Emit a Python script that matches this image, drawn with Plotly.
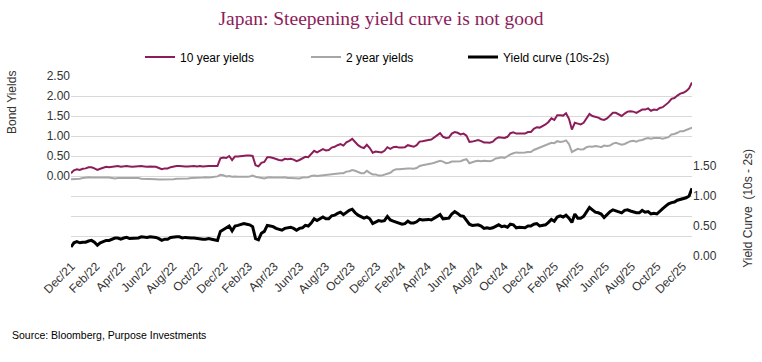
import pandas as pd
import plotly.graph_objects as go

# ---------------- data (weekly readings, Thursdays from 30 Dec 2021) ----------------
start_date = "2021-12-30"

ten_year = [
    0.07,
    0.14, 0.17, 0.15, 0.18,
    0.19, 0.22, 0.22, 0.19,
    0.15, 0.18, 0.20, 0.23, 0.22,
    0.23, 0.24, 0.25, 0.23,
    0.24, 0.25, 0.24, 0.23,
    0.24, 0.25, 0.25, 0.24, 0.23,
    0.24, 0.24, 0.23, 0.20,
    0.17, 0.19, 0.19, 0.22,
    0.24, 0.25, 0.25, 0.24, 0.24,
    0.24, 0.25, 0.25, 0.24,
    0.25, 0.24, 0.25, 0.25,
    0.25, 0.25, 0.25, 0.44, 0.46,
    0.45, 0.50, 0.40, 0.49,
    0.49, 0.50, 0.51, 0.51,
    0.51, 0.50, 0.27, 0.24, 0.33,
    0.35, 0.47, 0.47, 0.45,
    0.42, 0.40, 0.39, 0.43,
    0.42, 0.43, 0.41, 0.37, 0.40,
    0.43, 0.48, 0.47, 0.55,
    0.63, 0.59, 0.63, 0.67, 0.64,
    0.65, 0.71, 0.73, 0.77,
    0.80, 0.76, 0.84, 0.88,
    0.93, 0.85, 0.77, 0.72, 0.70,
    0.78, 0.70, 0.58, 0.61,
    0.60, 0.59, 0.63, 0.72,
    0.68, 0.72, 0.73, 0.71, 0.71,
    0.72, 0.77, 0.74, 0.73,
    0.77, 0.86, 0.87, 0.89,
    0.90, 0.91, 0.96, 1.02, 1.07,
    0.98, 0.95, 0.96, 1.06,
    1.10, 1.08, 1.04, 1.06,
    1.01, 0.85, 0.86, 0.88, 0.90,
    0.87, 0.84, 0.84, 0.83,
    0.86, 0.93, 0.97, 0.96, 0.95,
    0.98, 1.07, 1.09, 1.06,
    1.06, 1.06, 1.06, 1.10,
    1.10, 1.18, 1.22, 1.21, 1.24,
    1.29, 1.35, 1.44, 1.40,
    1.52, 1.52, 1.51, 1.57,
    1.43, 1.16, 1.33, 1.31,
    1.29, 1.33, 1.45, 1.55, 1.50,
    1.48, 1.46, 1.42, 1.40,
    1.44, 1.50, 1.58, 1.58, 1.55,
    1.50, 1.56, 1.61, 1.62,
    1.61, 1.58, 1.61, 1.66,
    1.66, 1.69, 1.63, 1.66, 1.65,
    1.70, 1.72, 1.78, 1.84,
    1.93, 1.95, 2.01, 2.06,
    2.08, 2.12, 2.19, 2.34,
]

two_year = [
    -0.08,
    -0.08, -0.07, -0.07, -0.05,
    -0.04, -0.03, -0.04, -0.04,
    -0.03, -0.04, -0.04, -0.03, -0.04,
    -0.05, -0.06, -0.05, -0.05,
    -0.06, -0.06, -0.05, -0.06,
    -0.06, -0.05, -0.07, -0.07, -0.08,
    -0.08, -0.08, -0.08, -0.09,
    -0.09, -0.09, -0.09, -0.09,
    -0.08, -0.07, -0.07, -0.06, -0.07,
    -0.06, -0.05, -0.05, -0.05,
    -0.04, -0.04, -0.03, -0.04,
    -0.03, -0.02, -0.01, 0.03, 0.02,
    -0.01, 0.00, -0.02, -0.01,
    -0.02, -0.02, -0.03, -0.02,
    -0.01, 0.01, -0.02, -0.03, -0.05,
    -0.06, -0.04, -0.03, -0.04,
    -0.04, -0.05, -0.04, -0.03,
    -0.05, -0.05, -0.05, -0.06, -0.06,
    -0.04, -0.03, -0.03, 0.00,
    0.01, 0.00, 0.01, 0.02, 0.02,
    0.03, 0.04, 0.05, 0.06,
    0.07, 0.07, 0.11, 0.12,
    0.15, 0.13, 0.09, 0.07, 0.07,
    0.13, 0.08, 0.04, 0.04,
    0.01, 0.01, 0.04, 0.06,
    0.08, 0.14, 0.17, 0.17, 0.18,
    0.18, 0.19, 0.19, 0.18,
    0.20, 0.25, 0.27, 0.28,
    0.29, 0.31, 0.33, 0.35, 0.38,
    0.36, 0.32, 0.33, 0.36,
    0.36, 0.37, 0.37, 0.40,
    0.42, 0.32, 0.35, 0.37, 0.38,
    0.37, 0.38, 0.37, 0.37,
    0.39, 0.44, 0.45, 0.47, 0.45,
    0.50, 0.54, 0.57, 0.59,
    0.58, 0.58, 0.59, 0.60,
    0.60, 0.65, 0.68, 0.71, 0.73,
    0.77, 0.79, 0.83, 0.82,
    0.87, 0.85, 0.86, 0.89,
    0.80, 0.60, 0.63, 0.68,
    0.66, 0.67, 0.72, 0.74, 0.73,
    0.75, 0.74, 0.72, 0.76,
    0.75, 0.76, 0.81, 0.83, 0.81,
    0.78, 0.80, 0.84, 0.87,
    0.88, 0.86, 0.89, 0.90,
    0.93, 0.95, 0.93, 0.95, 0.95,
    0.95, 0.93, 0.95, 0.97,
    1.04, 1.05, 1.08, 1.12,
    1.12, 1.15, 1.19, 1.21,
]

yield_curve = [
    0.15,
    0.22, 0.24, 0.22, 0.23,
    0.23, 0.25, 0.26, 0.23,
    0.18, 0.22, 0.24, 0.26, 0.26,
    0.28, 0.30, 0.30, 0.28,
    0.30, 0.31, 0.29, 0.29,
    0.30, 0.30, 0.32, 0.31, 0.31,
    0.32, 0.32, 0.31, 0.29,
    0.26, 0.28, 0.28, 0.31,
    0.32, 0.32, 0.32, 0.30, 0.31,
    0.30, 0.30, 0.30, 0.29,
    0.29, 0.28, 0.28, 0.29,
    0.28, 0.27, 0.26, 0.41, 0.44,
    0.46, 0.50, 0.42, 0.50,
    0.51, 0.52, 0.54, 0.53,
    0.52, 0.49, 0.29, 0.27, 0.38,
    0.41, 0.51, 0.50, 0.49,
    0.46, 0.45, 0.43, 0.46,
    0.47, 0.48, 0.46, 0.43, 0.46,
    0.47, 0.51, 0.50, 0.55,
    0.62, 0.59, 0.62, 0.65, 0.62,
    0.62, 0.67, 0.68, 0.71,
    0.73, 0.69, 0.73, 0.76,
    0.78, 0.72, 0.68, 0.65, 0.63,
    0.65, 0.62, 0.54, 0.57,
    0.59, 0.58, 0.59, 0.66,
    0.60, 0.58, 0.56, 0.54, 0.53,
    0.54, 0.58, 0.55, 0.55,
    0.57, 0.61, 0.60, 0.61,
    0.61, 0.60, 0.63, 0.67, 0.69,
    0.62, 0.63, 0.63, 0.70,
    0.74, 0.71, 0.67, 0.66,
    0.59, 0.53, 0.51, 0.51, 0.52,
    0.50, 0.46, 0.47, 0.46,
    0.47, 0.49, 0.52, 0.49, 0.50,
    0.48, 0.53, 0.52, 0.47,
    0.48, 0.48, 0.47, 0.50,
    0.50, 0.53, 0.54, 0.50, 0.51,
    0.52, 0.56, 0.61, 0.58,
    0.65, 0.67, 0.65, 0.68,
    0.63, 0.56, 0.70, 0.63,
    0.63, 0.66, 0.73, 0.81, 0.77,
    0.73, 0.72, 0.70, 0.64,
    0.69, 0.74, 0.77, 0.75, 0.74,
    0.72, 0.76, 0.77, 0.75,
    0.73, 0.72, 0.72, 0.76,
    0.73, 0.74, 0.70, 0.71, 0.70,
    0.75, 0.79, 0.83, 0.87,
    0.89, 0.90, 0.93, 0.94,
    0.96, 0.97, 1.00, 1.13,
]

dates = pd.date_range(start_date, periods=len(ten_year), freq="7D")

left_tick_vals = [-2.0, -1.5, -1.0, -0.5, 0.0, 0.5, 1.0, 1.5, 2.0, 2.5]
left_tick_text = ["", "", "", "", "0.00", "0.50", "1.00", "1.50", "2.00", "2.50"]
right_tick_vals = [0.0, 0.5, 1.0, 1.5]
right_tick_text = ["0.00", "0.50", "1.00", "1.50"]
x_tick_dates = pd.date_range("2021-12-31", "2025-12-31", freq="2ME")

title_text = "Japan: Steepening yield curve is not good"
names = ["10 year yields", "2 year yields", "Yield curve (10s-2s)"]
left_title = "Bond Yields"
right_title = "Yield Curve  (10s - 2s)"
source_text = "Source: Bloomberg, Purpose Investments"

# ---------------- styles ----------------
C_TEN = "#8C1D5A"
C_TWO = "#A6A6A6"
C_CURVE = "#000000"
GRID = "#D9D9D9"
FONT = "Liberation Sans, Arial, sans-serif"
TXT = "#333333"

fig = go.Figure()
fig.add_trace(go.Scatter(x=dates, y=ten_year, name=names[0], mode="lines",
                         line=dict(color=C_TEN, width=2), yaxis="y", legend="legend"))
fig.add_trace(go.Scatter(x=dates, y=two_year, name=names[1], mode="lines",
                         line=dict(color=C_TWO, width=2), yaxis="y", legend="legend2"))
fig.add_trace(go.Scatter(x=dates, y=yield_curve, name=names[2], mode="lines",
                         line=dict(color=C_CURVE, width=3), yaxis="y2", legend="legend3"))


def legend_at(px_left):
    return dict(orientation="h", x=(px_left - 71) / 621.0, xanchor="left",
                y=1.105, yanchor="middle",
                font=dict(family=FONT, size=12, color="#000000"),
                bgcolor="rgba(0,0,0,0)", itemwidth=30)


xr = [dates[0], dates[-1]]
fig.update_layout(
    width=762, height=362,
    margin=dict(l=71, r=70, t=76, b=106),
    paper_bgcolor="white", plot_bgcolor="white",
    font=dict(family=FONT, size=12, color=TXT),
    title=dict(text=title_text, x=0.5, xanchor="center", y=0.95, yanchor="middle",
               font=dict(family="Georgia, Liberation Serif, DejaVu Serif, serif", size=19.5, color=C_TEN)),
    showlegend=True,
    legend=legend_at(140),
    legend2=legend_at(306),
    legend3=legend_at(463),
    xaxis=dict(type="date", range=xr, tickvals=x_tick_dates, tickformat="%b/%y",
               tickangle=-45, showgrid=False, showline=False, zeroline=False, ticks="",
               tickfont=dict(family=FONT, size=12, color=TXT)),
    xaxis2=dict(type="date", range=xr, overlaying="x", anchor="free", position=2.0 / 4.5,
                tickvals=x_tick_dates, showticklabels=False, ticks="outside", ticklen=4,
                tickcolor=GRID, showline=True, linecolor=GRID, linewidth=1, showgrid=False,
                zeroline=False),
    yaxis=dict(range=[-2.0, 2.5], tickvals=left_tick_vals, ticktext=left_tick_text,
               showgrid=True, gridcolor=GRID, gridwidth=1, zeroline=False, showline=False,
               ticks="", tickfont=dict(family=FONT, size=12, color=TXT)),
    yaxis2=dict(range=[0.0, 3.0], overlaying="y", side="right", tickvals=right_tick_vals,
                ticktext=right_tick_text, showgrid=False, zeroline=False, showline=False,
                ticks="", tickfont=dict(family=FONT, size=12, color=TXT)),
    annotations=[
        dict(text=left_title, xref="paper", yref="paper", x=-0.095, y=0.85, textangle=-90,
             showarrow=False, xanchor="center", yanchor="middle",
             font=dict(family=FONT, size=12, color=TXT)),
        dict(text=right_title, xref="paper", yref="paper", x=1.09, y=0.267, textangle=-90,
             showarrow=False, xanchor="center", yanchor="middle",
             font=dict(family=FONT, size=12, color=TXT)),
        dict(text=source_text, xref="paper", yref="paper", x=-0.098, y=-0.44,
             xanchor="left", yanchor="middle", showarrow=False,
             font=dict(family=FONT, size=10.5, color="#000000")),
    ],
)

fig.write_html("out.html", config={"displayModeBar": False},
               post_script="document.body.style.margin='0';")
